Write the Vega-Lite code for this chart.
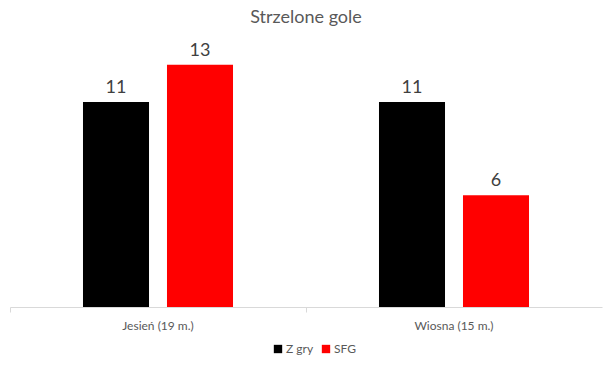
{
  "$schema": "https://vega.github.io/schema/vega-lite/v6.json",
  "autosize": "none",
  "width": 592,
  "height": 261,
  "padding": {"left": 10, "top": 46, "right": 9, "bottom": 58},
  "background": "white",
  "title": {"text": "Strzelone gole", "font": "Lato", "fontSize": 18, "fontWeight": "normal", "color": "#595959", "anchor": "middle", "offset": 15},
  "data": {"values": [
    {"okres": "Jesień (19 m.)", "typ": "Z gry", "gole": 11},
    {"okres": "Jesień (19 m.)", "typ": "SFG", "gole": 13},
    {"okres": "Wiosna (15 m.)", "typ": "Z gry", "gole": 11},
    {"okres": "Wiosna (15 m.)", "typ": "SFG", "gole": 6}
  ]},
  "encoding": {
    "x": {"field": "okres", "type": "nominal", "sort": null, "title": null,
      "scale": {"paddingInner": 0, "paddingOuter": 0},
      "axis": {"labelAngle": 0, "bandPosition": 0, "domainColor": "#d9d9d9", "tickColor": "#d9d9d9", "tickSize": 5, "labelFont": "Lato", "labelFontSize": 12, "labelColor": "#595959", "labelPadding": 8, "labelBound": false}},
    "xOffset": {"field": "typ", "type": "nominal", "sort": ["Z gry", "SFG"], "scale": {"paddingInner": 0.214, "paddingOuter": 0.869}},
    "y": {"field": "gole", "type": "quantitative", "scale": {"domain": [0, 14]}, "axis": null}
  },
  "layer": [
    {"mark": {"type": "bar"},
     "encoding": {"color": {"field": "typ", "type": "nominal", "sort": ["Z gry", "SFG"],
       "scale": {"domain": ["Z gry", "SFG"], "range": ["#000000", "#ff0000"]},
       "legend": {"title": null, "orient": "none", "legendX": 262, "legendY": 297, "direction": "horizontal", "symbolType": "square", "symbolSize": 70, "symbolStrokeWidth": 0, "labelFont": "Lato", "labelFontSize": 12, "labelColor": "#595959", "columnPadding": 6, "labelOffset": 2}}}},
    {"mark": {"type": "text", "dy": -14, "font": "Lato", "fontSize": 18, "color": "#404040"},
     "encoding": {"text": {"field": "gole", "type": "quantitative"}}}
  ],
  "config": {"view": {"stroke": null}}
}
